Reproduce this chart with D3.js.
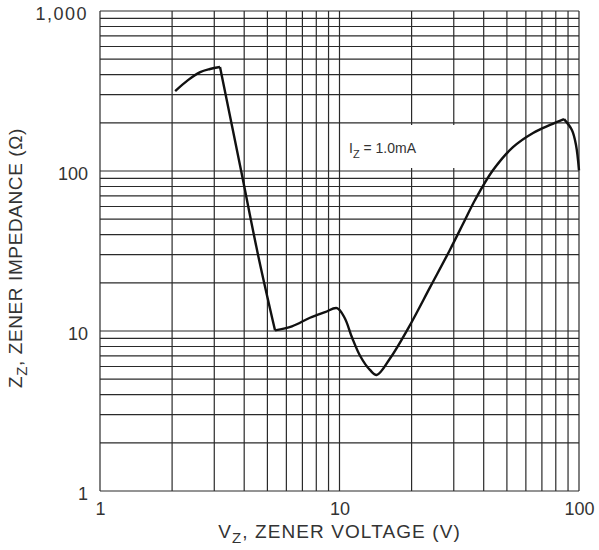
<!DOCTYPE html>
<html>
<head>
<meta charset="utf-8">
<script src="https://cdn.jsdelivr.net/npm/d3@7"></script>
<style>
  body { margin: 0; background: #fff; }
  svg text { font-family: "Liberation Sans", Arial, sans-serif; fill: #333; }
</style>
</head>
<body>
<div id="chart"></div>
<script>
// Zener voltage (V) and impedance (ohm)
const voltage = [2.06, 2.33, 2.62, 2.88, 3.17, 3.88, 4.57, 5.38, 6.33, 7.53, 8.70, 9.76,
    10.5, 11.3, 12.2, 13.4, 14.3, 16.3, 19.7, 23.9, 28.9, 33.4, 36.8, 43.7,
    53.0, 64.3, 75.7, 86.6, 93.5, 97.2, 100];
const impedance = [316, 370, 415, 434, 447, 101, 29.9, 10.1, 10.7, 12.1, 13.1, 13.9,
    12.1, 9.04, 6.98, 5.71, 5.31, 6.78, 10.9, 18.8, 32.1, 49.4, 65.9, 101,
    141, 173, 194, 211, 180, 145, 101];
// sharp corners of the curve (point index)
const corners = [4, 7, 27];

const xTicks = [1, 10, 100];
const xTickLabels = ["1", "10", "100"];
const yTicks = [1, 10, 100, 1000];
const yTickLabels = ["1", "10", "100", "1,000"];

const width = 599;
const height = 550;
const margin = { top: 11, right: 20, bottom: 59, left: 100 };

const svg = d3.select("#chart")
    .append("svg")
    .attr("width", width)
    .attr("height", height);

const x = d3.scaleLog()
    .domain([1, 100])
    .range([margin.left, width - margin.right]);

const y = d3.scaleLog()
    .domain([1, 1000])
    .range([height - margin.bottom, margin.top]);

// grid values: 1..9 in every decade
const xGrid = [];
[1, 10].forEach(d => { for (let i = 1; i < 10; i++) xGrid.push(d * i); });
xGrid.push(100);
const yGrid = [];
[1, 10, 100].forEach(d => { for (let i = 1; i < 10; i++) yGrid.push(d * i); });
yGrid.push(1000);

const grid = svg.append("g")
    .attr("stroke", "#2a2a2a")
    .attr("stroke-width", 1.2);

grid.selectAll(".vline")
    .data(xGrid)
    .enter()
    .append("line")
    .attr("class", "vline")
    .attr("x1", d => x(d))
    .attr("x2", d => x(d))
    .attr("y1", y(1))
    .attr("y2", y(1000));

grid.selectAll(".hline")
    .data(yGrid)
    .enter()
    .append("line")
    .attr("class", "hline")
    .attr("x1", x(1))
    .attr("x2", x(100))
    .attr("y1", d => y(d))
    .attr("y2", d => y(d));

// axes, only used for the tick labels
const xAxis = svg.append("g")
    .attr("transform", `translate(0, ${y(1)})`)
    .call(d3.axisBottom(x).tickValues(xTicks).tickSize(0).tickPadding(11)
        .tickFormat((d, i) => xTickLabels[i]));
xAxis.select(".domain").remove();
xAxis.selectAll("text").attr("font-size", 18).attr("fill", "#333");

const yAxis = svg.append("g")
    .attr("transform", `translate(${x(1)}, 0)`)
    .call(d3.axisLeft(y).tickValues(yTicks).tickSize(0).tickPadding(12)
        .tickFormat((d, i) => yTickLabels[i]));
yAxis.select(".domain").remove();
yAxis.selectAll("text").attr("font-size", 18).attr("fill", "#333").attr("dy", "0.45em");
yAxis.selectAll("text").filter((d, i) => yTickLabels[i].length > 3).attr("letter-spacing", 1.5);

// the curve, smooth between the sharp corners
const points = d3.zip(voltage, impedance);
const line = d3.line()
    .x(d => x(d[0]))
    .y(d => y(d[1]))
    .curve(d3.curveCatmullRom.alpha(0.5));

const cuts = [0, ...corners, points.length - 1];
const pieces = d3.pairs(cuts).map(([a, b]) => points.slice(a, b + 1));

svg.append("path")
    .attr("fill", "none")
    .attr("stroke", "#111")
    .attr("stroke-width", 2.4)
    .attr("stroke-linejoin", "round")
    .attr("d", pieces.map(p => line(p)).join(""));

// annotation with white box behind
svg.append("rect")
    .attr("x", 343)
    .attr("y", 125)
    .attr("width", 113)
    .attr("height", 43)
    .attr("fill", "#fff");

const note = svg.append("text")
    .attr("x", 349)
    .attr("y", 153)
    .attr("font-size", 14);
note.append("tspan").text("I");
note.append("tspan").attr("dy", 5).attr("font-size", 11).text("Z");
note.append("tspan").attr("dy", -5).text(" = 1.0mA");

// axis titles
const xTitle = svg.append("text")
    .attr("x", (x(1) + x(100)) / 2)
    .attr("y", 538)
    .attr("text-anchor", "middle")
    .attr("font-size", 19)
    .attr("letter-spacing", 1.1);
xTitle.append("tspan").text("V");
xTitle.append("tspan").attr("dy", 5).attr("font-size", 15).text("Z");
xTitle.append("tspan").attr("dy", -5).text(", ZENER VOLTAGE (V)");

const yTitle = svg.append("text")
    .attr("transform", `translate(22, ${(y(1) + y(1000)) / 2 + 7}) rotate(-90)`)
    .attr("text-anchor", "middle")
    .attr("font-size", 19)
    .attr("letter-spacing", 0.6);
yTitle.append("tspan").text("Z");
yTitle.append("tspan").attr("dy", 5).attr("font-size", 15).text("Z");
yTitle.append("tspan").attr("dy", -5).text(", ZENER IMPEDANCE (Ω)");
</script>
</body>
</html>
